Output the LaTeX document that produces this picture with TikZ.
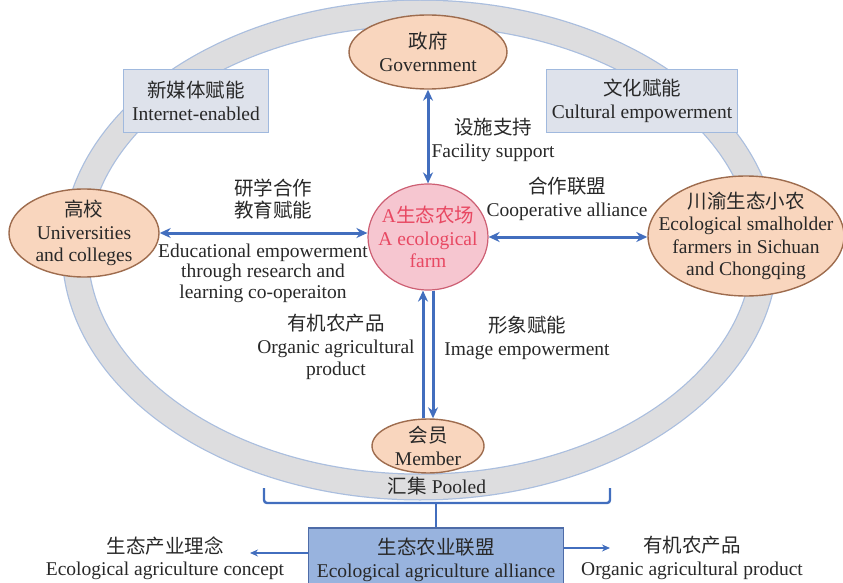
\documentclass[tikz,border=0pt]{standalone}
\usepackage{fontspec}
\setmainfont{Liberation Serif}
\newfontfamily\cjk{Noto Sans CJK SC}
\usetikzlibrary{shapes.geometric,arrows.meta}

\definecolor{ringgray}{RGB}{221,221,223}
\definecolor{ringblue}{RGB}{170,190,222}
\definecolor{linkblue}{RGB}{66,110,190}
\definecolor{peach}{RGB}{249,214,190}
\definecolor{peachedge}{RGB}{158,108,78}
\definecolor{farmpink}{RGB}{246,198,208}
\definecolor{farmedge}{RGB}{205,95,115}
\definecolor{farmred}{RGB}{232,72,98}
\definecolor{boxgray}{RGB}{222,226,235}
\definecolor{boxedge}{RGB}{160,185,222}
\definecolor{allyblue}{RGB}{152,179,222}
\definecolor{allyedge}{RGB}{78,108,168}
\definecolor{ink}{RGB}{40,40,40}

\tikzset{
    txt/.style={font=\fontsize{19.5}{22.5}\selectfont, text=ink, align=center, inner sep=0pt},
    party/.style={ellipse, draw=peachedge, fill=peach, line width=1.4pt, inner sep=0pt},
    farmshape/.style={ellipse, draw=farmedge, fill=farmpink, line width=1.2pt, inner sep=0pt},
    tagbox/.style={txt, rectangle, draw=boxedge, fill=boxgray, line width=1.2pt},
    allybox/.style={txt, rectangle, draw=allyedge, fill=allyblue, line width=1.4pt},
    link/.style={draw=linkblue, line width=3pt},
    thinlink/.style={draw=linkblue, line width=2pt, >={Stealth[length=8pt,width=7pt]}},
    bracket/.style={draw=linkblue, line width=2.4pt, rounded corners=3pt}
}

\begin{document}
\begin{tikzpicture}[x=1pt, y=-1pt, >={Stealth[length=11pt,width=10pt]}]
    \useasboundingbox (0,0) rectangle (843,583);
    % ring
    \draw[ringblue, line width=27pt] (420,250) ellipse [x radius=345pt, y radius=237pt];
    \draw[ringgray, line width=24.5pt] (420,250) ellipse [x radius=345pt, y radius=237pt];

    \node[party, minimum width=158pt, minimum height=74pt] (gov) at (428,52) {};
    \node[txt] (govText) at (gov) {{\cjk 政府}\\Government};
    \node[party, minimum width=150pt, minimum height=88pt] (univ) at (84,233) {};
    \node[txt] (univText) at (univ) {{\cjk 高校}\\Universities\\and colleges};
    \node[party, minimum width=196pt, minimum height=120pt] (farmer) at (746,236) {};
    \node[txt] (farmerText) at (farmer) {{\cjk 川渝生态小农}\\Ecological smalholder\\farmers in Sichuan\\and Chongqing};
    \node[party, minimum width=112pt, minimum height=54pt] (member) at (428,446) {};
    \node[txt] (memberText) at (member) {{\cjk 会员}\\Member};
    \node[farmshape, minimum width=120pt, minimum height=106pt] (farm) at (428,237) {};
    \node[txt, text=farmred] (farmText) at (farm) {A{\cjk 生态农场}\\A ecological\\farm};

    \node[tagbox, minimum width=145pt, minimum height=63pt] (web) at (196,101) {{\cjk 新媒体赋能}\\Internet-enabled};
    \node[tagbox, minimum width=191pt, minimum height=63pt] (culture) at (642,101) {{\cjk 文化赋能}\\Cultural empowerment};
    \node[allybox, minimum width=255pt, minimum height=64pt] (alliance) at (436,560) {{\cjk 生态农业联盟}\\Ecological agriculture alliance};

    \draw[link, <->] (gov) -- (farm);
    \draw[link, <->] (univ.east) -- (univ.east -| farm.west);
    \draw[link, <->] (farm.east) -- (farm.east -| farmer.west);
    \draw[link, ->] ([xshift=-5pt]member.north) -- ([xshift=-5pt]farm.south);
    \draw[link, ->] ([xshift=5pt]farm.south) -- ([xshift=5pt]member.north);

    \node[txt] (facility) at (493,140) {{\cjk 设施支持}\\Facility support};
    \node[txt] (studyCn) at (273,199) {{\cjk 研学合作}\\{\cjk 教育赋能}};
    \node[txt, font=\fontsize{19.5}{20.5}\selectfont] (study) at (263,273) {Educational empowerment\\through research and\\learning co-operaiton};
    \node[txt] (coop) at (567,199) {{\cjk 合作联盟}\\Cooperative alliance};
    \node[txt] (organic) at (336,347) {{\cjk 有机农产品}\\Organic agricultural\\product};
    \node[txt] (image) at (527,338) {{\cjk 形象赋能}\\Image empowerment};
    \node[txt] (pooled) at (437,486) {{\cjk 汇集} Pooled};

    % bracket
    \coordinate (poolL) at (264,488);
    \coordinate (poolR) at (610,488);
    \coordinate (poolM) at (436,503);
    \draw[bracket] (poolL) -- (poolL |- poolM) -- (poolR |- poolM) -- (poolR);
    \draw[bracket] (poolM) -- (alliance.north);

    \node[txt] (concept) at (165,558) {{\cjk 生态产业理念}\\Ecological agriculture concept};
    \node[txt] (product) at (692,558) {{\cjk 有机农产品}\\Organic agricultural product};
    \coordinate (conceptTip) at (250,553);
    \coordinate (productTip) at (610,548);
    \draw[thinlink, ->] (alliance.west |- conceptTip) -- (conceptTip);
    \draw[thinlink, ->] (alliance.east |- productTip) -- (productTip);
\end{tikzpicture}
\end{document}
